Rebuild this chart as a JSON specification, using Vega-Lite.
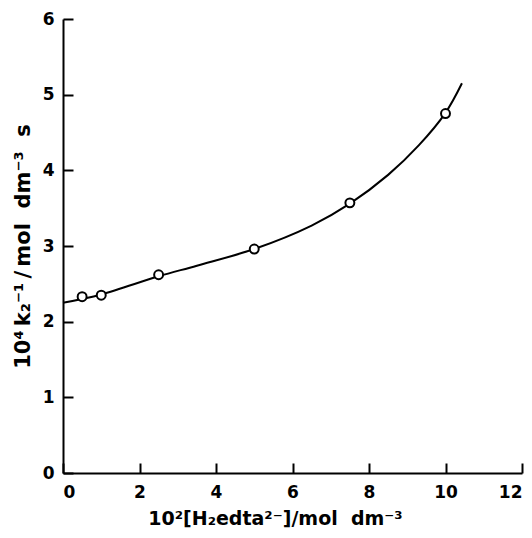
{
  "$schema": "https://vega.github.io/schema/vega-lite/v6.json",
  "autosize": "none",
  "width": 459,
  "height": 454,
  "padding": {"left": 63, "top": 19, "right": 10, "bottom": 65},
  "background": "white",
  "config": {
    "view": {"stroke": null},
    "axis": {
      "labelFont": "DejaVu Sans",
      "titleFont": "DejaVu Sans",
      "labelFontSize": 17,
      "titleFontSize": 19,
      "labelFontWeight": "bold",
      "titleFontWeight": "bold",
      "labelColor": "black",
      "titleColor": "black",
      "domainColor": "black",
      "tickColor": "black",
      "domainWidth": 2,
      "tickWidth": 2,
      "grid": false
    }
  },
  "datasets": {
    "curve": [
      {"x": 0, "y": 2.25},
      {"x": 1, "y": 2.36},
      {"x": 2.5, "y": 2.6},
      {"x": 3.5, "y": 2.74},
      {"x": 5, "y": 2.96},
      {"x": 6.5, "y": 3.27},
      {"x": 7.5, "y": 3.56},
      {"x": 8.5, "y": 3.94},
      {"x": 9.3, "y": 4.33},
      {"x": 10, "y": 4.76},
      {"x": 10.43, "y": 5.15}
    ],
    "points": [
      {"x": 0.5, "y": 2.33},
      {"x": 1, "y": 2.35},
      {"x": 2.5, "y": 2.62},
      {"x": 5, "y": 2.96},
      {"x": 7.5, "y": 3.57},
      {"x": 10, "y": 4.75}
    ]
  },
  "layer": [
    {
      "data": {"name": "curve"},
      "mark": {"type": "line", "interpolate": "catmull-rom", "color": "black", "strokeWidth": 2},
      "encoding": {
        "x": {
          "field": "x", "type": "quantitative",
          "scale": {"domain": [0, 12], "nice": false},
          "axis": {
            "values": [0, 2, 4, 6, 8, 10, 12],
            "format": "d",
            "tickSize": -10,
            "labelPadding": 21,
            "title": "10²[H₂edta²⁻]/mol\u00a0\u00a0dm⁻³",
            "titlePadding": 9,
            "titleX": 212
          }
        },
        "y": {
          "field": "y", "type": "quantitative",
          "scale": {"domain": [0, 6], "nice": false},
          "axis": {
            "values": [0, 1, 2, 3, 4, 5, 6],
            "format": "d",
            "tickSize": -10,
            "labelPadding": 19,
            "title": "10⁴\u2009k₂⁻¹\u2009/\u2009mol\u00a0\u00a0dm⁻³\u00a0\u00a0s",
            "titleFontSize": 21,
            "titlePadding": 9
          }
        }
      }
    },
    {
      "data": {"name": "points"},
      "mark": {"type": "point", "shape": "circle", "filled": false, "fill": "white", "fillOpacity": 1, "stroke": "black", "strokeWidth": 2, "opacity": 1, "size": 80},
      "encoding": {
        "x": {"field": "x", "type": "quantitative"},
        "y": {"field": "y", "type": "quantitative"}
      }
    }
  ]
}
